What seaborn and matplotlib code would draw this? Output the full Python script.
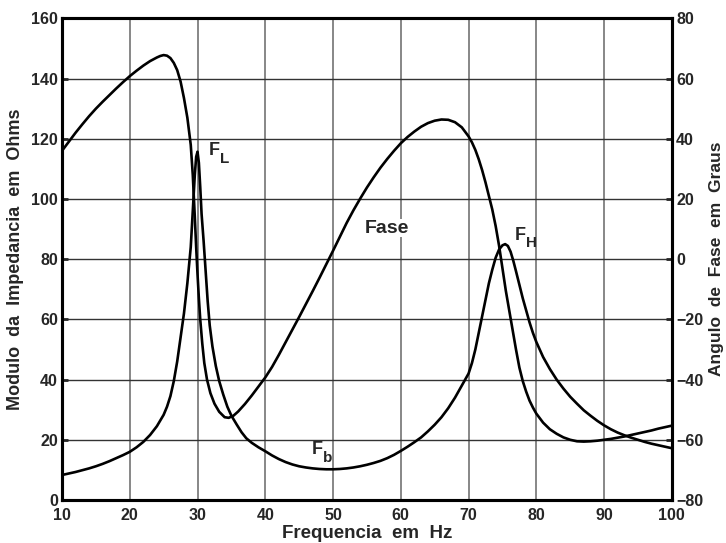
import matplotlib
matplotlib.use("Agg")
import matplotlib.pyplot as plt
import seaborn as sns

# modulo da impedancia (ohms)
freq_z = [10, 11, 12, 13, 14, 15, 16, 17, 18, 19, 20, 21, 22, 23, 24, 25, 25.5, 26,
          26.5, 27, 27.5, 28, 28.5, 29, 29.3, 29.6, 29.8, 30.0, 30.2, 30.4, 30.6,
          30.9, 31.2, 31.5, 31.8, 32.2, 32.7, 33.2, 33.8, 34.4, 35.0, 35.8, 36.5,
          37.2, 38, 39, 40, 41, 42, 43, 44, 45, 46, 47, 48, 49, 50, 51, 52, 53, 54,
          55, 56, 57, 58, 59, 60, 61, 62, 63, 64, 65, 66, 67, 68, 69, 70, 70.5, 71,
          71.5, 72, 72.5, 73, 73.5, 74, 74.5, 75, 75.4, 75.8, 76.2, 76.6, 77, 77.5,
          78, 78.5, 79, 79.5, 80, 81, 82, 83, 84, 85, 86, 87, 88, 89, 90, 91, 92,
          93, 94, 95, 96, 97, 98, 99, 100]
modulo = [8.3, 8.8, 9.3, 9.9, 10.5, 11.2, 12.0, 12.9, 13.9, 14.9, 16.0, 17.5, 19.3,
          21.6, 24.5, 28.3, 31, 34.5, 39.5, 46, 54, 62, 72, 84, 96, 108, 114, 115.7,
          112, 104, 95, 86, 76, 66, 58, 51, 44.5, 39.5, 35, 31, 28, 25, 22.5, 20.5,
          19, 17.5, 16.2, 14.8, 13.6, 12.6, 11.8, 11.2, 10.8, 10.5, 10.3, 10.2, 10.2,
          10.3, 10.5, 10.8, 11.2, 11.7, 12.3, 13, 13.9, 15, 16.3, 17.7, 19.2, 20.8,
          22.8, 25, 27.5, 30.5, 34, 38, 42, 45.5, 50, 55.5, 61, 66.5, 72, 76.5, 80.5,
          83.2, 84.6, 85, 84.4, 82.5, 79.5, 76, 71.5, 67, 63, 59, 55.5, 52.5, 47.5,
          43.5, 40, 37, 34.3, 32, 29.8, 28, 26.3, 24.8, 23.5, 22.4, 21.5, 20.7, 20,
          19.3, 18.7, 18.2, 17.7, 17.2]

# angulo de fase (graus)
freq_fase = [10, 11, 12, 13, 14, 15, 16, 17, 18, 19, 20, 21, 22, 23, 24, 24.5, 25,
             25.5, 26, 26.5, 27, 27.5, 28, 28.5, 29, 29.3, 29.6, 29.8, 30.0, 30.2,
             30.4, 30.7, 31.0, 31.4, 31.9, 32.5, 33.2, 34, 34.6, 35.3, 36, 37, 38,
             39, 40, 41, 42, 43, 44, 45, 46, 47, 48, 49, 50, 51, 52, 53, 54, 55, 56,
             57, 58, 59, 60, 61, 62, 63, 64, 65, 66, 67, 68, 69, 70, 70.5, 71, 71.5,
             72, 72.5, 73, 73.5, 74, 74.5, 75, 75.5, 76, 76.5, 77, 77.5, 78, 78.5,
             79, 79.5, 80, 81, 82, 83, 84, 85, 86, 87, 88, 89, 90, 91, 92, 93, 94,
             95, 96, 97, 98, 99, 100]
fase = [36, 39, 42, 44.8, 47.5, 50, 52.3, 54.5, 56.7, 58.8, 60.8, 62.6, 64.3, 65.8,
        67, 67.5, 67.8, 67.6, 66.8, 65.2, 62.8, 59, 53.5, 47, 38, 28, 14, 4, -5, -13,
        -20, -28, -34.5, -40, -44.5, -48, -50.7, -52.5, -52.7, -52, -50.6, -48.1,
        -45.3, -42.3, -39.3, -35.8, -31.8, -27.6, -23.4, -19.2, -14.9, -10.6, -6.2,
        -1.7, 2.8, 7.4, 12, 16.2, 20.1, 23.8, 27.2, 30.4, 33.3, 36, 38.5, 40.6, 42.4,
        44, 45.2, 46, 46.4, 46.3, 45.5, 43.8, 40.8, 38.8, 36.3, 33.2, 29.6, 25.5, 21,
        16.5, 11, 4.5, -3, -10.5, -17, -23.5, -30, -36, -40.5, -44, -47, -49.3, -51.3,
        -54.3, -56.5, -58, -59.2, -60, -60.5, -60.6, -60.5, -60.3, -60, -59.7, -59.3,
        -58.9, -58.4, -57.9, -57.4, -56.9, -56.3, -55.8, -55.3]

sns.set_style("white")
plt.rcParams['font.family'] = ['Liberation Sans', 'DejaVu Sans']
plt.rcParams['font.weight'] = 'bold'

fig = plt.figure(figsize=(7.26, 5.43), dpi=100)
ax = fig.add_axes([0.0854, 0.0792, 0.840, 0.887])
ax2 = ax.twinx()

sns.lineplot(x=freq_z, y=modulo, ax=ax, color='black', lw=1.9)
sns.lineplot(x=freq_fase, y=fase, ax=ax2, color='black', lw=1.9)

ax.set_xlim(10, 100)
ax.set_ylim(0, 160)
ax2.set_ylim(-80, 80)
ax.set_xticks(range(10, 101, 10))
ax.set_yticks(range(0, 161, 20))
ax2.set_yticks(range(-80, 81, 20))

ax.set_axisbelow(True)
ax.grid(axis='x', color='0.45', lw=1.2)
ax.grid(axis='y', color='0.2', lw=1.0)

for a in (ax, ax2):
    for s in a.spines.values():
        s.set_linewidth(2.2)
        s.set_color('black')
ax.tick_params(axis='both', direction='in', length=4, width=2, labelsize=11.5,
               pad=3, right=False, top=False)
ax.tick_params(axis='x', pad=6)
ax2.tick_params(axis='y', direction='in', length=4, width=2, labelsize=11.5, pad=3)

ax.set_xlabel("Frequencia  em  Hz", fontsize=13.5, fontweight='bold', labelpad=1)
ax.set_ylabel("Modulo  da  Impedancia  em  Ohms", fontsize=13, fontweight='bold', labelpad=5)
ax2.set_ylabel("Angulo  de  Fase  em  Graus", fontsize=12.5, fontweight='bold',
               rotation=90, labelpad=4)

# anotacoes
def rotulo(x, y, letra, sub):
    ax.text(x, y, letra, fontsize=13, fontweight='bold', ha='left', va='center')
    ax.annotate(sub, xy=(x, y), xytext=(8, -6), textcoords='offset points',
                fontsize=11, fontweight='bold', ha='left', va='center')

rotulo(31.7, 116, "F", "L")
rotulo(76.8, 88, "F", "H")
rotulo(46.9, 16.8, "F", "b")
ax.text(54.7, 90.3, "Fase", fontsize=14, fontweight='bold', ha='left', va='center',
        bbox=dict(facecolor='white', edgecolor='none', pad=0.5))

fig.savefig("out.png", dpi=100)
